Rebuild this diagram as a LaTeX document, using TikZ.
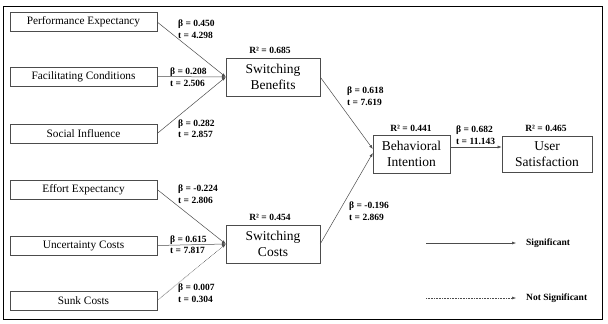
\documentclass[tikz,border=0pt]{standalone}
\usepackage{fontspec}
\setmainfont{Liberation Serif}
\usetikzlibrary{positioning,arrows.meta}

\begin{document}
\begin{tikzpicture}[x=1pt, y=-1pt,
  src/.style={draw=black!70, fill=white, minimum width=147pt, minimum height=19pt, inner sep=1pt, font=\fontsize{11.3}{13}\selectfont},
  con/.style={draw=black!70, fill=white, minimum height=38pt, inner sep=1pt, align=center, font=\fontsize{13.5}{15.5}\selectfont},
  lbl/.style={anchor=west, align=left, inner sep=0pt, font=\bfseries\fontsize{9.5}{11.5}\selectfont},
  rsq/.style={inner sep=0pt, font=\bfseries\fontsize{9.5}{11}\selectfont},
  path/.style={draw=black!70, line width=0.5pt, -{Latex[length=4pt,width=3pt]}},
  nspath/.style={path, dash pattern=on 0.8pt off 0.8pt}
]
  \useasboundingbox (0,0) rectangle (608,324);
  \draw[line width=0.9pt] (3.5,6) rectangle (602.5,319);

  % exogenous constructs
  \node[src] (pe) at (83.5,22) {Performance Expectancy};
  \node[src] (fc) at (83.5,76.5) {Facilitating Conditions};
  \node[src] (si) at (83.5,133.5) {Social Influence};
  \node[src] (ee) at (83.5,189.5) {Effort Expectancy};
  \node[src] (uc) at (83.5,245.5) {Uncertainty Costs};
  \node[src] (sk) at (83.5,300.5) {Sunk Costs};

  % endogenous constructs
  \node[con, minimum width=94pt] (sb) at (273,77) {Switching\\Benefits};
  \node[con, minimum width=94pt] (sc) at (273,244) {Switching\\Costs};
  \node[con, minimum width=77pt] (bi) at (411.5,154) {Behavioral\\Intention};
  \node[con, minimum width=90pt, minimum height=36pt, line width=0.8pt] (us) at (547,154) {User\\Satisfaction};

  \node[rsq] (rsb) at (270,50) {R² = 0.685};
  \node[rsq] (rsc) at (270,217) {R² = 0.454};
  \node[rsq] (rbi) at (411,128) {R² = 0.441};
  \node[rsq] (rus) at (546,128) {R² = 0.465};

  % paths
  \draw[path] (pe.east) -- (sb.west);
  \draw[path] (fc.east) -- (sb.west);
  \draw[path] (si.east) -- (sb.west);
  \draw[path] (ee.east) -- (sc.west);
  \draw[path] (uc.east) -- (sc.west);
  \draw[nspath] (sk.east) -- (sc.west);
  \draw[path] (sb.east) -- ([yshift=5pt]bi.west);
  \draw[path] (sc.east) -- ([yshift=1pt]bi.west);
  \draw[path] ([yshift=7pt]bi.east) -- ([yshift=7pt]us.west);

  \node[lbl] (lpe) at (178,29) {β = 0.450\\t = 4.298};
  \node[lbl] (lfc) at (170,77) {β = 0.208\\t = 2.506};
  \node[lbl] (lsi) at (178,128.5) {β = 0.282\\t = 2.857};
  \node[lbl] (lee) at (178,194) {β = -0.224\\t = 2.806};
  \node[lbl] (luc) at (170,244.5) {β = 0.615\\t = 7.817};
  \node[lbl] (lsk) at (178,293) {β = 0.007\\t = 0.304};
  \node[lbl] (lsb) at (347,96) {β = 0.618\\t = 7.619};
  \node[lbl] (lsc) at (349,211) {β = -0.196\\t = 2.869};
  \node[lbl] (lbi) at (456,135) {β = 0.682\\t = 11.143};

  % legend
  \coordinate (sigA) at (426,243);
  \coordinate (nsA) at (426,298);
  \node[lbl] (sig) at (526,243) {Significant};
  \node[lbl] (ns) at (526,298) {Not Significant};
  \draw[path, shorten >=10pt] (sigA) -- (sig.west);
  \draw[nspath, shorten >=10pt] (nsA) -- (ns.west);
\end{tikzpicture}
\end{document}
